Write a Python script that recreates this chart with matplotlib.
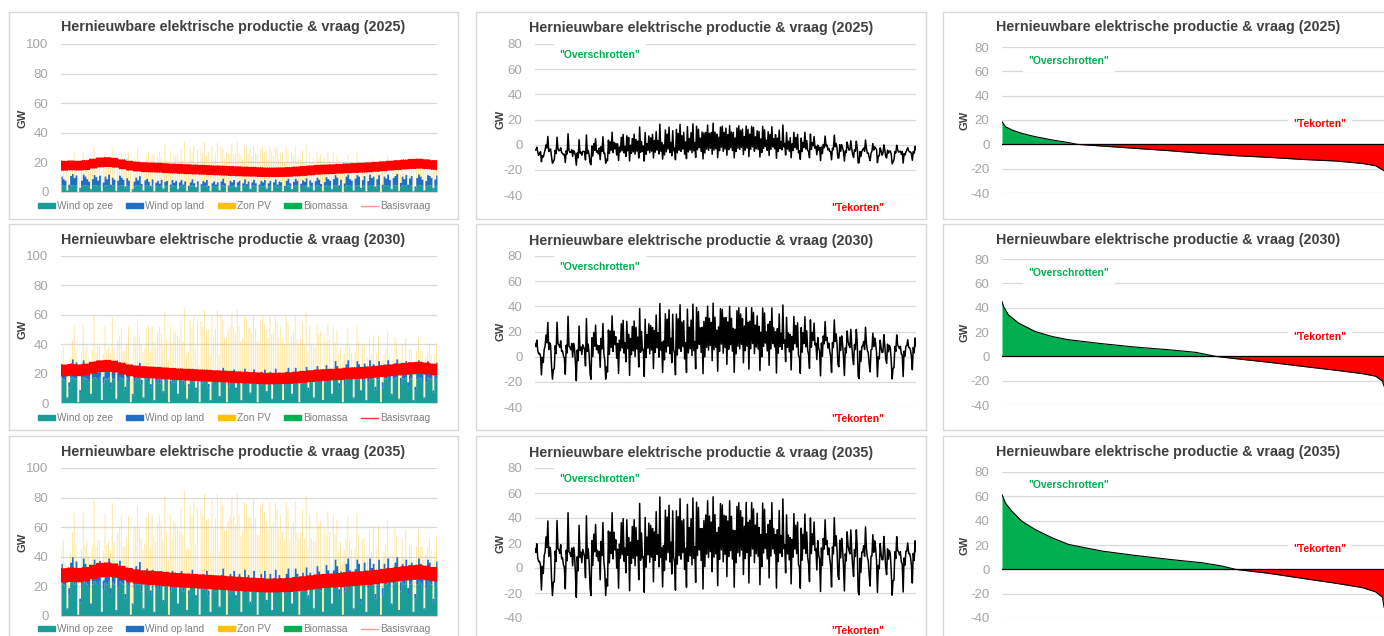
import numpy as np
import matplotlib
matplotlib.use('Agg')
import matplotlib.pyplot as plt
from matplotlib.patches import Rectangle, Patch
from matplotlib.lines import Line2D

plt.rcParams['font.family'] = ['Liberation Sans', 'DejaVu Sans']
plt.rcParams['axes.unicode_minus'] = False

years = ['2025', '2030', '2035']

# capaciteit per jaar (GW) en schaal van de vraag
cap_zee = [5.0, 18.0, 24.0]
cap_land = [7.5, 12.0, 16.0]
cap_pv = [27.0, 44.0, 57.0]
cap_bio = [0.0, 0.0, 0.0]
dem_scale = [1.0, 1.25, 1.55]

zee_cf = [0.95, 0.9, 0.85, 0.2, 0.6, 0.95, 1.0, 0.9, 0.95, 0.05, 0.4, 0.85, 1.0, 0.95, 0.9, 0.8,
          0.3, 0.9, 1.0, 0.95, 0.85, 1.0, 0.1, 0.75, 0.95, 0.9, 1.0, 0.6, 0.95, 0.9, 0.15, 0.85,
          1.0, 0.95, 0.9, 0.5, 0.95, 0.85, 0.05, 0.3, 0.8, 0.95, 0.9, 1.0, 0.7, 0.2, 0.9, 0.95,
          0.85, 0.6, 0.95, 0.1, 0.8, 0.9, 0.75, 0.95, 0.4, 0.85, 0.9, 0.05, 0.7, 0.95, 0.8, 0.9,
          0.3, 0.85, 0.95, 0.7, 0.9, 0.15, 0.6, 0.85, 0.95, 0.8, 0.5, 0.9, 0.05, 0.75, 0.9, 0.85,
          0.95, 0.6, 0.1, 0.8, 0.9, 0.7, 0.85, 0.25, 0.9, 0.95, 0.8, 0.05, 0.65, 0.9, 0.85, 0.95,
          0.5, 0.85, 0.9, 0.1, 0.8, 0.95, 0.75, 0.9, 0.35, 0.85, 0.95, 0.8, 0.05, 0.7, 0.9, 0.85,
          0.95, 0.4, 0.8, 0.9, 0.15, 0.85, 0.95, 0.7, 0.9, 0.85, 0.1, 0.6, 0.9, 0.95, 0.8, 0.3,
          0.85, 0.95, 0.9, 0.05, 0.75, 0.9, 0.85, 0.95, 0.5, 0.9, 0.8, 0.2, 0.85, 0.95, 0.9, 0.7,
          0.1, 0.8, 0.95, 0.9, 0.85, 0.3, 0.9, 1.0, 0.95, 0.6, 0.9, 0.05, 0.7, 0.95, 1.0, 0.9,
          0.85, 0.2, 0.9, 1.0, 0.95, 0.4, 0.85, 0.95, 0.1, 0.8, 1.0, 0.9, 0.95, 0.5, 0.9, 1.0,
          0.05, 0.6, 0.95, 0.9, 1.0, 0.85, 0.3, 0.9, 0.95, 1.0, 0.15, 0.7, 0.95, 0.9, 1.0, 0.6,
          0.9, 0.95, 0.1, 0.5, 0.9, 1.0, 0.95, 0.85, 0.2, 0.8, 1.0, 0.95, 0.9, 0.4, 0.85, 0.95]
land_cf = [0.8, 0.6, 0.5, 0.05, 0.3, 0.85, 1.0, 0.7, 0.9, 0.0, 0.15, 0.5, 0.95, 0.8, 0.6, 0.45,
           0.1, 0.6, 0.9, 0.75, 0.5, 0.85, 0.05, 0.4, 0.8, 0.6, 0.95, 0.3, 0.7, 0.55, 0.05, 0.5,
           0.85, 0.7, 0.55, 0.2, 0.65, 0.5, 0.0, 0.1, 0.45, 0.7, 0.5, 0.8, 0.3, 0.05, 0.5, 0.6,
           0.4, 0.2, 0.55, 0.05, 0.35, 0.45, 0.3, 0.5, 0.1, 0.4, 0.45, 0.0, 0.25, 0.5, 0.35, 0.45,
           0.1, 0.35, 0.5, 0.25, 0.4, 0.05, 0.2, 0.35, 0.55, 0.3, 0.15, 0.4, 0.0, 0.25, 0.45, 0.35,
           0.5, 0.2, 0.05, 0.3, 0.4, 0.25, 0.35, 0.05, 0.4, 0.6, 0.3, 0.0, 0.2, 0.45, 0.35, 0.5,
           0.15, 0.35, 0.45, 0.05, 0.3, 0.55, 0.25, 0.4, 0.1, 0.35, 0.5, 0.3, 0.0, 0.25, 0.45, 0.35,
           0.5, 0.1, 0.3, 0.45, 0.05, 0.35, 0.55, 0.25, 0.4, 0.35, 0.05, 0.2, 0.45, 0.6, 0.3, 0.1,
           0.4, 0.6, 0.45, 0.0, 0.3, 0.5, 0.4, 0.65, 0.15, 0.5, 0.35, 0.05, 0.45, 0.7, 0.55, 0.3,
           0.05, 0.4, 0.75, 0.6, 0.5, 0.1, 0.6, 0.9, 0.7, 0.25, 0.55, 0.0, 0.35, 0.8, 0.95, 0.6,
           0.5, 0.05, 0.65, 0.9, 0.8, 0.15, 0.55, 0.85, 0.05, 0.5, 0.95, 0.7, 0.8, 0.2, 0.6, 0.9,
           0.0, 0.3, 0.8, 0.65, 0.95, 0.55, 0.1, 0.7, 0.85, 1.0, 0.05, 0.4, 0.8, 0.6, 0.9, 0.3,
           0.65, 0.85, 0.05, 0.2, 0.7, 0.95, 0.8, 0.6, 0.05, 0.5, 0.9, 0.85, 0.7, 0.15, 0.6, 0.9]
pv_cf = [0.2, 0.35, 0.15, 0.5, 0.25, 0.1, 0.3, 0.65, 0.2, 0.4, 0.15, 0.3, 0.55, 0.2, 0.35, 0.25,
         0.45, 0.3, 0.7, 0.2, 0.4, 0.25, 0.5, 0.35, 0.6, 0.3, 0.2, 0.45, 0.75, 0.35, 0.25, 0.5,
         0.4, 0.6, 0.3, 0.55, 0.35, 0.7, 0.5, 0.25, 0.6, 0.45, 0.8, 0.4, 0.55, 0.7, 0.35, 0.6,
         0.75, 0.5, 0.65, 0.9, 0.45, 0.6, 0.8, 0.55, 0.7, 0.95, 0.5, 0.65, 0.85, 0.4, 0.7, 0.6,
         0.9, 0.55, 0.75, 0.6, 1.0, 0.7, 0.5, 0.85, 0.65, 0.95, 0.6, 0.8, 0.55, 0.9, 0.7, 1.0,
         0.6, 0.85, 0.7, 0.95, 0.55, 0.8, 1.0, 0.65, 0.9, 0.75, 0.6, 1.0, 0.8, 0.7, 0.95, 0.65,
         0.85, 1.0, 0.7, 0.9, 0.6, 0.8, 0.95, 0.7, 1.0, 0.65, 0.85, 0.75, 0.95, 0.6, 0.8, 0.9,
         0.7, 0.95, 0.6, 0.85, 1.0, 0.65, 0.8, 0.9, 0.55, 0.75, 0.95, 0.6, 0.85, 0.7, 0.5, 0.9,
         0.65, 0.8, 0.5, 0.9, 0.6, 0.75, 0.45, 0.85, 0.55, 0.7, 0.5, 0.8, 0.4, 0.65, 0.55, 0.75,
         0.45, 0.6, 0.35, 0.7, 0.5, 0.4, 0.65, 0.3, 0.55, 0.45, 0.35, 0.6, 0.4, 0.3, 0.5, 0.35,
         0.3, 0.45, 0.25, 0.55, 0.35, 0.2, 0.4, 0.3, 0.5, 0.25, 0.35, 0.2, 0.45, 0.3, 0.25, 0.4,
         0.2, 0.35, 0.15, 0.3, 0.45, 0.2, 0.3, 0.15, 0.4, 0.25, 0.6, 0.2, 0.3, 0.15, 0.35, 0.25,
         0.3, 0.2, 0.5, 0.15, 0.25, 0.35, 0.2, 0.3, 0.55, 0.25, 0.15, 0.3, 0.2, 0.4, 0.25, 0.3]

# basisvraag 2025 per week (GW): dag en nacht
dem_hi = [20.5, 20.8, 20.6, 21.0, 22.0, 22.8, 23.0, 22.6, 21.5, 20.6, 20.0, 19.6, 19.4, 19.2, 18.9, 18.6,
          18.4, 18.2, 18.0, 17.8, 17.6, 17.4, 17.2, 17.0, 16.8, 16.6, 16.4, 16.2, 16.0, 16.0, 16.1, 16.3,
          16.6, 17.0, 17.4, 17.8, 18.0, 18.2, 18.4, 18.8, 19.0, 19.2, 19.5, 19.8, 20.2, 20.6, 21.0, 21.4,
          21.8, 22.0, 21.6, 21.0]
dem_lo = [14.9, 15.2, 15.0, 15.4, 16.4, 17.2, 17.4, 17.0, 15.9, 15.0, 14.4, 14.0, 13.8, 13.6, 13.3, 13.0,
          12.8, 12.6, 12.4, 12.2, 12.0, 11.8, 11.6, 11.4, 11.2, 11.0, 10.9, 10.7, 10.6, 10.6, 10.7, 10.8,
          11.1, 11.4, 11.8, 12.2, 12.5, 12.7, 12.9, 13.2, 13.4, 13.6, 13.9, 14.2, 14.6, 15.0, 15.4, 15.8,
          16.1, 16.3, 16.0, 15.5]

# gesorteerde overschotten (duurkromme), % van het jaar en GW
dur_pct = [
    [0, 0.9, 2.6, 5.2, 8.7, 13.1, 17.5, 19.7, 26.2, 34.9, 43.7, 52.4, 61.1, 69.9, 78.6, 87.3, 94.3, 97.8, 100],
    [0, 0.4, 1.7, 4.4, 8.7, 13.1, 17.5, 26.2, 34.9, 43.7, 50.7, 55.9, 61.1, 69.9, 78.6, 87.3, 94.3, 97.8, 99.6, 100],
    [0, 0.9, 2.6, 5.2, 8.7, 13.1, 17.5, 21.8, 26.2, 34.9, 43.7, 52.4, 57.6, 61.1, 69.9, 78.6, 87.3, 94.3, 97.8, 99.6, 100],
]
dur_gw = [
    [18.7, 14.5, 11.8, 9.0, 6.3, 3.6, 1.4, 0.0, -1.4, -3.3, -5.2, -7.4, -9.3, -10.7, -12.4, -13.7, -15.7, -17.6, -21.7],
    [45, 40.9, 34, 27.2, 20.4, 16.3, 13.6, 10.4, 7.6, 5.4, 3.3, 0, -1.9, -4.9, -8.2, -11.4, -14.2, -16.3, -20.4, -24.5],
    [61.3, 54.5, 47.7, 39.5, 32.7, 25.9, 20.4, 17.7, 15, 11.4, 8.2, 5.4, 2.7, 0, -3.3, -7.4, -11.4, -15, -18.5, -23, -31],
]

c_zee = '#1A9C99'
c_land = '#1F6FC5'
c_pv = '#FFC000'
c_bio = '#00B050'
c_grid = '#D9D9D9'
c_tick = '#A6A6A6'
c_title = '#404040'
title = 'Hernieuwbare elektrische productie & vraag ({})'
leg_line = ['#FF9999', '#FF3030', '#FF9999']

W, H = 1384, 636


def fx(px):
    return px / W


def fy(py):
    return 1 - py / H


def build(j):
    # elke sample: een dag- en een nachtpunt
    zee = np.repeat(np.array(zee_cf) * cap_zee[j], 2)
    land = np.repeat(np.array(land_cf) * cap_land[j], 2)
    pv = np.column_stack([np.array(pv_cf) * cap_pv[j], np.zeros(len(pv_cf))]).ravel()
    bio = np.full(zee.size, cap_bio[j])
    per_week = len(pv_cf) // len(dem_hi)
    hi = np.repeat(np.array(dem_hi), per_week)
    lo = np.repeat(np.array(dem_lo), per_week)
    dem = np.column_stack([hi, lo]).ravel() * dem_scale[j]
    return zee, land, pv, bio, dem


def style_axis(ax, lo, hi):
    ax.set_ylim(lo, hi)
    ax.set_yticks(np.arange(lo, hi + 1, 20))
    ax.set_xticks([])
    ax.grid(axis='y', color=c_grid, lw=0.9)
    ax.set_axisbelow(True)
    for s in ax.spines.values():
        s.set_visible(False)
    ax.tick_params(axis='y', length=0, labelsize=9.5, labelcolor=c_tick, pad=9)


def plot_production(ax, j):
    zee, land, pv, bio, dem = build(j)
    x = np.arange(zee.size)
    wind = zee + land
    ax.fill_between(x, 0, zee, color=c_zee, lw=0, step='mid')
    ax.fill_between(x, zee, wind, color=c_land, lw=0, step='mid')
    ax.fill_between(x, wind, wind + pv, color=c_pv, alpha=0.4, lw=0, step='mid')
    ax.fill_between(x, wind + pv, wind + pv + bio, color=c_bio, lw=0, step='mid')
    ax.plot(x, dem, color='#FF0000', lw=1.4)
    ax.set_xlim(0, x[-1])
    style_axis(ax, 0, 100)
    ax.spines['bottom'].set_visible(True)
    ax.spines['bottom'].set_color(c_grid)
    handles = [Patch(color=c_zee), Patch(color=c_land), Patch(color=c_pv), Patch(color=c_bio),
               Line2D([], [], color=leg_line[j], lw=1)]
    labels = ['Wind op zee', 'Wind op land', 'Zon PV', 'Biomassa', 'Basisvraag']
    return handles, labels


def plot_surplus(ax, j):
    zee, land, pv, bio, dem = build(j)
    surplus = zee + land + pv + bio - dem
    x = np.arange(surplus.size)
    ax.plot(x, surplus, color='black', lw=1.1)
    ax.set_xlim(0, x[-1])
    style_axis(ax, -40, 80)


def plot_duration(ax, j):
    p = np.array(dur_pct[j])
    v = np.array(dur_gw[j])
    ax.fill_between(p, v, 0, where=v >= 0, interpolate=True, color=c_bio, lw=0)
    ax.fill_between(p, v, 0, where=v <= 0, interpolate=True, color='#FF0000', lw=0)
    ax.plot(p, v, color='black', lw=0.8)
    ax.axhline(0, color='black', lw=0.9)
    ax.set_xlim(0, 100)
    style_axis(ax, -40, 80)


fig = plt.figure(figsize=(W / 100, H / 100), dpi=100)

box_x = [(9, 458), (476, 926), (943, 1393)]
box_y = [(12, 219), (224, 430), (436, 645)]
for bx in box_x:
    for by in box_y:
        fig.patches.append(Rectangle((fx(bx[0]), fy(by[1])), (bx[1] - bx[0]) / W, (by[1] - by[0]) / H,
                                     transform=fig.transFigure, fill=False, ec=c_grid, lw=1))

rows_left = [(44, 192), (256, 403), (468, 616)]
rows_mid = [(44, 195), (256, 407), (468, 618)]
rows_right = [(47, 193), (259, 405), (472, 618)]
title_y = [27, 240, 452]
legend_y = [206, 418, 629]
over_mid = [55, 267, 479]
tek_mid = [208, 419, 631]
over_right = [61, 273, 485]
tek_right = [124, 337, 549]

green_txt = dict(color='#00B050', fontsize=7.5, fontweight='bold', ha='center', va='center',
                 family=['Liberation Sans Narrow', 'Liberation Sans'],
                 bbox=dict(facecolor='white', edgecolor='none', pad=4))
red_txt = dict(green_txt, color='#FF0000')
title_txt = dict(ha='center', va='center', fontsize=10.3, fontweight='bold', color=c_title)
gw_txt = dict(rotation=90, ha='center', va='center', fontsize=8, fontweight='bold', color=c_title)

for j in range(3):
    t, b = rows_left[j]
    ax = fig.add_axes([fx(61), fy(b), 376 / W, (b - t) / H])
    handles, labels = plot_production(ax, j)
    ax.legend(handles, labels, loc='center', bbox_to_anchor=(fx(234), fy(legend_y[j])),
              bbox_transform=fig.transFigure, ncol=5, frameon=False, fontsize=7.3,
              labelcolor='#808080', handlelength=1.7, handleheight=0.4, handletextpad=0.2,
              columnspacing=1.3, borderpad=0)
    fig.text(fx(233), fy(title_y[j]), title.format(years[j]), **title_txt)
    fig.text(fx(22), fy((t + b) / 2), 'GW', **gw_txt)

    t, b = rows_mid[j]
    ax = fig.add_axes([fx(535), fy(b), 381 / W, (b - t) / H])
    plot_surplus(ax, j)
    fig.text(fx(701), fy(title_y[j] + 1), title.format(years[j]), **title_txt)
    fig.text(fx(500), fy((t + b) / 2), 'GW', **gw_txt)
    fig.text(fx(600), fy(over_mid[j]), '"Overschrotten"', **green_txt)
    fig.text(fx(858), fy(tek_mid[j]), '"Tekorten"', **red_txt)

    t, b = rows_right[j]
    ax = fig.add_axes([fx(1002), fy(b), 382 / W, (b - t) / H])
    plot_duration(ax, j)
    fig.text(fx(1168), fy(title_y[j]), title.format(years[j]), **title_txt)
    fig.text(fx(964), fy((t + b) / 2), 'GW', **gw_txt)
    fig.text(fx(1069), fy(over_right[j]), '"Overschrotten"', **green_txt)
    fig.text(fx(1320), fy(tek_right[j]), '"Tekorten"', **red_txt)

fig.savefig('out.png', dpi=100)
